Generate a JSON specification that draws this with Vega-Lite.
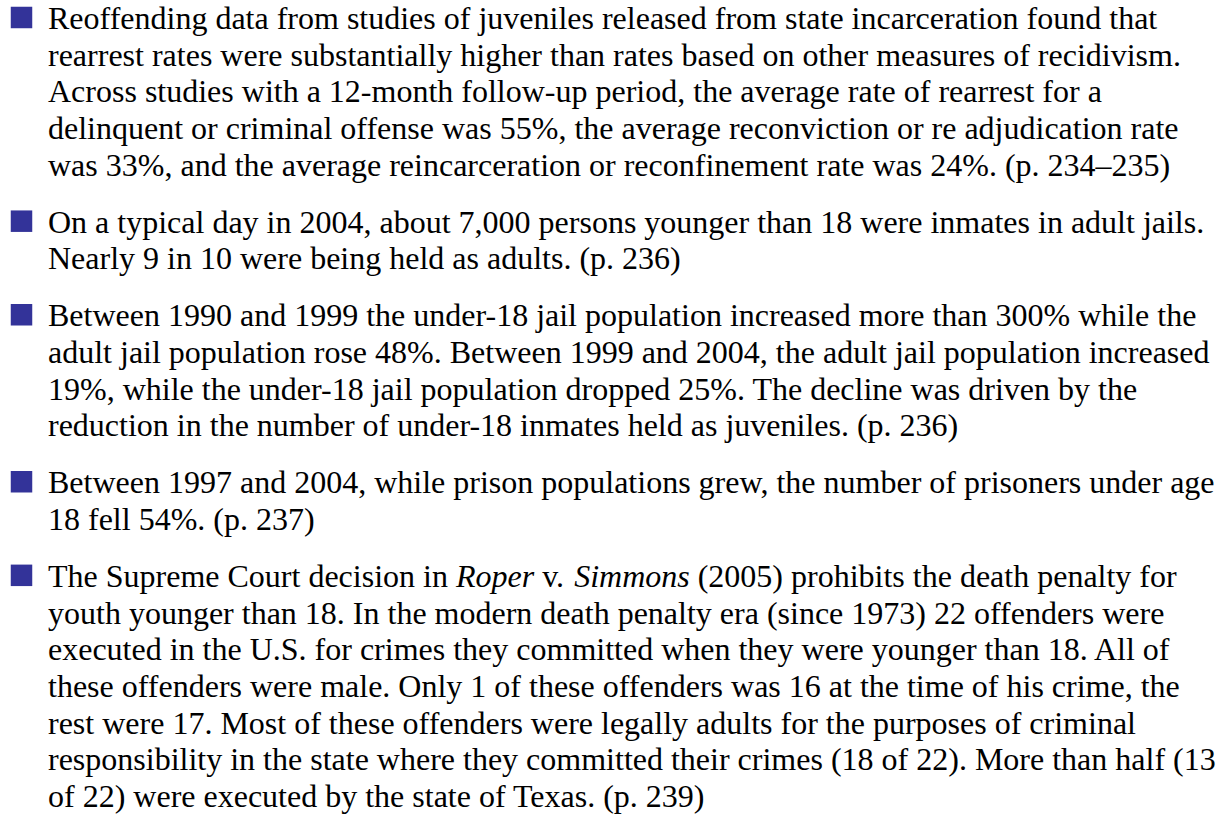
{
  "$schema": "https://vega.github.io/schema/vega-lite/v6.json",
  "width": 1227,
  "height": 815,
  "autosize": {"type": "fit", "contains": "padding"},
  "padding": 0,
  "background": "white",
  "config": {"view": {"stroke": null}},
  "datasets": {
    "bullets": [
      {"start": 21.5, "line": 0},
      {"start": 21.5, "line": 5.55},
      {"start": 21.5, "line": 8.1},
      {"start": 21.5, "line": 12.65},
      {"start": 21.5, "line": 15.2}
    ],
    "lines": [
      {"start": 48, "line": 0, "style": "normal", "text": "Reoffending data from studies of juveniles released from state incarceration found that"},
      {"start": 48, "line": 1, "style": "normal", "text": "rearrest rates were substantially higher than rates based on other measures of recidivism."},
      {"start": 48, "line": 2, "style": "normal", "text": "Across studies with a 12-month follow-up period, the average rate of rearrest for a"},
      {"start": 48, "line": 3, "style": "normal", "text": "delinquent or criminal offense was 55%, the average reconviction or re adjudication rate"},
      {"start": 48, "line": 4, "style": "normal", "text": "was 33%, and the average reincarceration or reconfinement rate was 24%. (p. 234–235)"},
      {"start": 48, "line": 5.55, "style": "normal", "text": "On a typical day in 2004, about 7,000 persons younger than 18 were inmates in adult jails."},
      {"start": 48, "line": 6.55, "style": "normal", "text": "Nearly 9 in 10 were being held as adults. (p. 236)"},
      {"start": 48, "line": 8.1, "style": "normal", "text": "Between 1990 and 1999 the under-18 jail population increased more than 300% while the"},
      {"start": 48, "line": 9.1, "style": "normal", "text": "adult jail population rose 48%. Between 1999 and 2004, the adult jail population increased"},
      {"start": 48, "line": 10.1, "style": "normal", "text": "19%, while the under-18 jail population dropped 25%. The decline was driven by the"},
      {"start": 48, "line": 11.1, "style": "normal", "text": "reduction in the number of under-18 inmates held as juveniles. (p. 236)"},
      {"start": 48, "line": 12.65, "style": "normal", "text": "Between 1997 and 2004, while prison populations grew, the number of prisoners under age"},
      {"start": 48, "line": 13.65, "style": "normal", "text": "18 fell 54%. (p. 237)"},
      {"start": 48, "line": 15.2, "style": "normal", "text": "The Supreme Court decision in"},
      {"start": 456, "line": 15.2, "style": "italic", "text": "Roper"},
      {"start": 542.2, "line": 15.2, "style": "normal", "text": "v."},
      {"start": 574.2, "line": 15.2, "style": "italic", "text": "Simmons"},
      {"start": 697.7, "line": 15.2, "style": "normal", "text": "(2005) prohibits the death penalty for"},
      {"start": 48, "line": 16.2, "style": "normal", "text": "youth younger than 18. In the modern death penalty era (since 1973) 22 offenders were"},
      {"start": 48, "line": 17.2, "style": "normal", "text": "executed in the U.S. for crimes they committed when they were younger than 18. All of"},
      {"start": 48, "line": 18.2, "style": "normal", "text": "these offenders were male. Only 1 of these offenders was 16 at the time of his crime, the"},
      {"start": 48, "line": 19.2, "style": "normal", "text": "rest were 17. Most of these offenders were legally adults for the purposes of criminal"},
      {"start": 48, "line": 20.2, "style": "normal", "text": "responsibility in the state where they committed their crimes (18 of 22). More than half (13"},
      {"start": 48, "line": 21.2, "style": "normal", "text": "of 22) were executed by the state of Texas. (p. 239)"}
    ]
  },
  "encoding": {
    "x": {"field": "start", "type": "quantitative", "scale": {"domain": [0, 1227], "nice": false, "zero": false}, "axis": null},
    "y": {"field": "line", "type": "quantitative", "scale": {"domain": [-0.79, 21.417], "nice": false, "zero": false, "reverse": true}, "axis": null}
  },
  "layer": [
    {
      "data": {"name": "bullets"},
      "mark": {"type": "square", "filled": true, "color": "#333399", "opacity": 1, "size": 462, "yOffset": -11.5}
    },
    {
      "data": {"name": "lines"},
      "transform": [{"filter": "datum.style === 'normal'"}],
      "mark": {"type": "text", "align": "left", "baseline": "alphabetic", "font": "Liberation Serif", "fontSize": 32, "color": "#000000"},
      "encoding": {"text": {"field": "text"}}
    },
    {
      "data": {"name": "lines"},
      "transform": [{"filter": "datum.style === 'italic'"}],
      "mark": {"type": "text", "align": "left", "baseline": "alphabetic", "font": "Liberation Serif", "fontStyle": "italic", "fontSize": 32, "color": "#000000"},
      "encoding": {"text": {"field": "text"}}
    }
  ]
}
